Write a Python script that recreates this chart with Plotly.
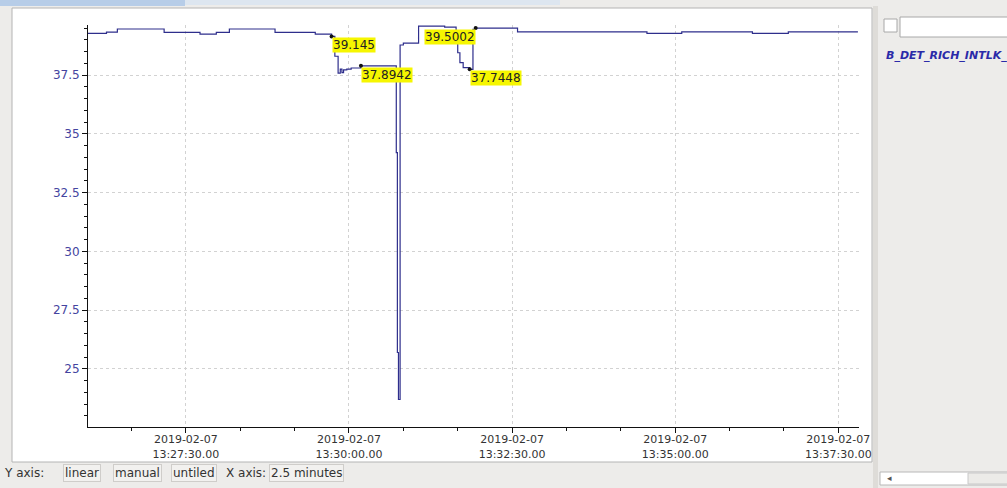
import plotly.graph_objects as go

# ---------------- data ----------------
times = [
    "2019-02-07 13:26:00", "2019-02-07 13:26:17", "2019-02-07 13:26:27", "2019-02-07 13:27:10",
    "2019-02-07 13:27:43", "2019-02-07 13:27:58", "2019-02-07 13:28:10", "2019-02-07 13:28:52",
    "2019-02-07 13:29:29", "2019-02-07 13:29:44", "2019-02-07 13:29:47", "2019-02-07 13:29:50",
    "2019-02-07 13:29:52", "2019-02-07 13:29:53.5", "2019-02-07 13:29:55", "2019-02-07 13:29:58",
    "2019-02-07 13:30:02", "2019-02-07 13:30:11", "2019-02-07 13:30:43.5", "2019-02-07 13:30:44.5",
    "2019-02-07 13:30:45.5", "2019-02-07 13:30:47", "2019-02-07 13:30:50", "2019-02-07 13:31:04",
    "2019-02-07 13:31:28", "2019-02-07 13:31:38.5", "2019-02-07 13:31:40", "2019-02-07 13:31:42",
    "2019-02-07 13:31:45", "2019-02-07 13:31:51", "2019-02-07 13:31:54", "2019-02-07 13:31:56.5",
    "2019-02-07 13:32:35", "2019-02-07 13:34:34", "2019-02-07 13:35:06", "2019-02-07 13:36:11",
    "2019-02-07 13:36:44", "2019-02-07 13:37:48",
]
values = [
    39.27, 39.33, 39.46, 39.32,
    39.245, 39.32, 39.46, 39.32,
    39.245, 39.145, 38.30, 37.58,
    37.75, 37.60, 37.72, 37.75,
    37.80, 37.8942, 34.2, 25.7,
    23.7, 38.78, 38.86, 39.585,
    39.54, 39.00, 38.45, 38.03,
    37.82, 37.7448, 39.45, 39.5002,
    39.34, 39.27, 39.34, 39.27,
    39.34, 39.34,
]

marker_times = ["2019-02-07 13:29:44", "2019-02-07 13:30:11", "2019-02-07 13:31:56.5", "2019-02-07 13:31:51"]
marker_values = [39.145, 37.8942, 39.5002, 37.7448]
marker_labels = ["39.145", "37.8942", "39.5002", "37.7448"]
marker_anchor = ["left", "left", "right", "left"]

x_tick_vals = ["2019-02-07 13:27:30", "2019-02-07 13:30:00", "2019-02-07 13:32:30",
               "2019-02-07 13:35:00", "2019-02-07 13:37:30"]
x_tick_text = ["2019-02-07<br>13:27:30.00", "2019-02-07<br>13:30:00.00", "2019-02-07<br>13:32:30.00",
               "2019-02-07<br>13:35:00.00", "2019-02-07<br>13:37:30.00"]
y_tick_vals = [25, 27.5, 30, 32.5, 35, 37.5]
y_tick_text = ["25", "27.5", "30", "32.5", "35", "37.5"]

x_range = ["2019-02-07 13:26:00", "2019-02-07 13:37:49"]
y_range = [22.53, 39.63]

status_items = [("Y axis:", False), ("linear", True), ("manual", True), ("untiled", True),
                ("X axis:", False), ("2.5 minutes", True)]
status_x = [2, 63, 113, 171, 224, 269]
channel_name = "B_DET_RICH_INTLK_"

# ---------------- geometry ----------------
W, H = 1007, 488
L, R, T, B = 88, W - 859, 25, H - 427
PW, PH = W - L - R, H - T - B


def px(xp):
    return (xp - L) / PW


def py(yp):
    return (H - B - yp) / PH


FONT = "DejaVu Sans"
LINE = "#2e2e8c"

fig = go.Figure()
fig.add_trace(go.Scatter(x=times, y=values, mode="lines", line=dict(color=LINE, width=1.2, shape="hv"),
                         hoverinfo="skip", showlegend=False))
fig.add_trace(go.Scatter(x=marker_times, y=marker_values, mode="markers",
                         marker=dict(color="#111111", size=4), hoverinfo="skip", showlegend=False))

annotations = []
for t, v, lab, anc in zip(marker_times, marker_values, marker_labels, marker_anchor):
    annotations.append(dict(x=t, y=v, xref="x", yref="y", text=lab, showarrow=False,
                            xanchor=anc, yanchor="top", bgcolor="#f6f600", borderpad=0,
                            font=dict(family=FONT, size=12, color="#222222"), yshift=-1))

# status bar
for (txt, boxed), xs in zip(status_items, status_x):
    annotations.append(dict(x=px(xs), y=py(473), xref="paper", yref="paper", text=txt, showarrow=False,
                            xanchor="left", yanchor="middle",
                            bgcolor="#f2f1ef" if boxed else "rgba(0,0,0,0)",
                            bordercolor="#cfcdca" if boxed else "rgba(0,0,0,0)", borderwidth=1, borderpad=1,
                            font=dict(family=FONT, size=12, color="#333333")))

annotations.append(dict(x=px(884), y=py(55), xref="paper", yref="paper", text="<b><i>" + channel_name + "</i></b>",
                        showarrow=False, xanchor="left", yanchor="middle",
                        font=dict(family=FONT, size=11, color="#2a2aa8")))
annotations.append(dict(x=px(885), y=py(478), xref="paper", yref="paper", text="◂", showarrow=False,
                        xanchor="left", yanchor="middle", font=dict(family=FONT, size=9, color="#555555")))

shapes = [
    # white panel
    dict(type="rect", xref="paper", yref="paper", x0=px(12), x1=px(872), y0=py(462), y1=py(8),
         fillcolor="white", line=dict(color="#b4b4b4", width=1), layer="below"),
    # top blue band
    dict(type="rect", xref="paper", yref="paper", x0=px(0), x1=px(185), y0=py(6), y1=py(0),
         fillcolor="#b7cde8", line=dict(width=0), layer="below"),
    dict(type="rect", xref="paper", yref="paper", x0=px(185), x1=px(560), y0=py(5), y1=py(0),
         fillcolor="#dde6f0", line=dict(width=0), layer="below"),
    # right panel divider
    dict(type="rect", xref="paper", yref="paper", x0=px(873), x1=px(878), y0=py(488), y1=py(6),
         fillcolor="#dedcd8", line=dict(width=0), layer="below"),
    # checkbox
    dict(type="rect", xref="paper", yref="paper", x0=px(884), x1=px(897), y0=py(32), y1=py(19),
         fillcolor="white", line=dict(color="#a8a8a8", width=1), layer="below"),
    # input box
    dict(type="rect", xref="paper", yref="paper", x0=px(900), x1=px(1012), y0=py(37), y1=py(17),
         fillcolor="white", line=dict(color="#a8a8a8", width=1), layer="below"),
    # scrollbar
    dict(type="rect", xref="paper", yref="paper", x0=px(880), x1=px(1012), y0=py(485), y1=py(472),
         fillcolor="white", line=dict(color="#b8b8b8", width=1), layer="below"),
    dict(type="rect", xref="paper", yref="paper", x0=px(968), x1=px(1012), y0=py(484), y1=py(473),
         fillcolor="#ecebe8", line=dict(color="#c8c8c8", width=1), layer="below"),
]

fig.update_layout(
    width=W, height=H, autosize=False,
    margin=dict(l=L, r=R, t=T, b=B, pad=0),
    paper_bgcolor="#edecea", plot_bgcolor="white",
    font=dict(family=FONT),
    showlegend=False,
    annotations=annotations,
    shapes=shapes,
)
fig.update_xaxes(
    type="date", range=x_range, tickmode="array", tickvals=x_tick_vals, ticktext=x_tick_text,
    showline=True, linecolor="#111111", linewidth=1, mirror=False,
    ticks="outside", ticklen=5, tickcolor="#111111", ticklabelstandoff=-3,
    showgrid=True, gridcolor="#d2d2d2", griddash="dot", gridwidth=1, zeroline=False,
    tickfont=dict(family=FONT, size=11, color="#333333"),
    minor=dict(tick0="2019-02-07 13:27:30", dtick=50000, ticks="outside", ticklen=3,
               tickcolor="#111111", showgrid=False),
)
fig.update_yaxes(
    range=y_range, tickmode="array", tickvals=y_tick_vals, ticktext=y_tick_text,
    showline=True, linecolor="#111111", linewidth=1, mirror=False,
    ticks="outside", ticklen=5, tickcolor="#111111",
    showgrid=True, gridcolor="#d2d2d2", griddash="dot", gridwidth=1, zeroline=False,
    tickfont=dict(family=FONT, size=12, color="#4444a0"),
    minor=dict(tick0=0, dtick=0.5, ticks="outside", ticklen=3, tickcolor="#111111", showgrid=False),
)

fig.write_html(
    "out.html",
    config={"displayModeBar": False},
    post_script="document.body.style.margin='0';document.body.style.overflow='hidden';"
                "document.documentElement.style.overflow='hidden';",
)
